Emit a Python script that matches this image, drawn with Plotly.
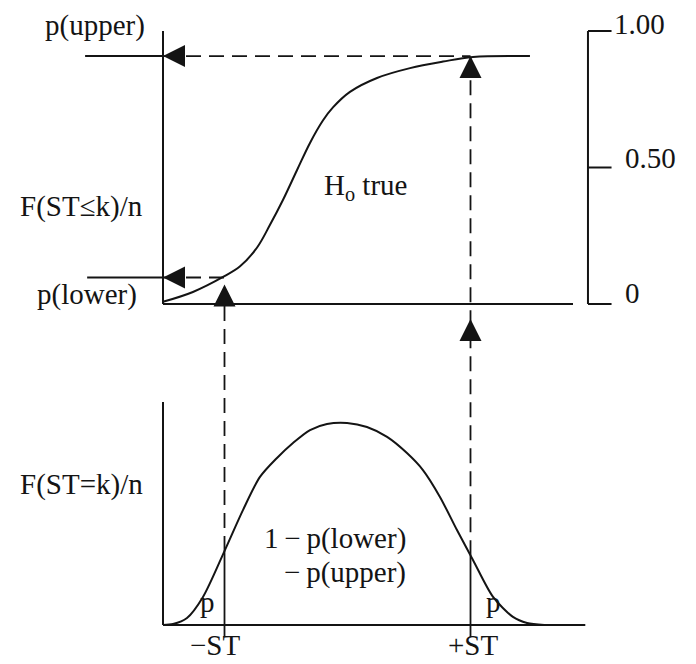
import numpy as np
import plotly.graph_objects as go

# cumulative frequency F(ST<=k)/n under H0 (top panel)
k_cdf = [0, 1.46, 2.93, 3.76, 4.59, 5.22, 5.85, 6.54, 7.17, 7.8, 8.29,
         9.12, 10.44, 12.05, 13.66, 15.12, 17.9]
cdf_vals = [0.008, 0.044, 0.099, 0.138, 0.207, 0.29, 0.381, 0.491, 0.59,
            0.672, 0.72, 0.777, 0.828, 0.864, 0.888, 0.905, 0.908]

# frequency distribution F(ST=k)/n (bottom panel)
k_pdf = [0, 0.49, 1.17, 1.95, 3.02, 3.9, 4.73, 5.56, 6.34, 7.17, 8.0, 8.98,
         9.95, 10.93, 11.9, 12.68, 13.51, 14.34, 15.12, 16.1, 17.07, 17.76, 18.6]
pdf_vals = [0, 0.005, 0.035, 0.139, 0.371, 0.569, 0.733, 0.827, 0.901, 0.965,
            0.995, 1.0, 0.98, 0.931, 0.851, 0.767, 0.634, 0.47, 0.322, 0.139,
            0.04, 0.01, 0]

st_lower, st_upper = 3.0, 15.0      # -ST and +ST
p_lower, p_upper = 0.097, 0.908     # cumulative levels reached at -ST / +ST

right_ticks = [0, 0.5, 1.0]
right_tick_text = ["0", "0.50", "1.00"]

# ---- page / pixel calibration ----
W, H = 696, 664
OFF = 8                      # default body margin of the html page
X0, XPX = 163, 20.5          # pixel of k=0, pixels per unit k
YT0, YTPX = 304, 273         # top panel: pixel of F=0, pixels per unit
YB0, YBPX = 625, 202         # bottom panel: pixel of f=0, pixels per unit

x_rng = [(OFF - X0) / XPX, (OFF + W - X0) / XPX]
yt_rng = [(YT0 - OFF - H) / YTPX, (YT0 - OFF) / YTPX]
yb_rng = [(YB0 - OFF - H) / YBPX, (YB0 - OFF) / YBPX]


def top_to_bottom(v):
    """convert a top-panel value to the bottom panel's units"""
    frac = (v - yt_rng[0]) / (yt_rng[1] - yt_rng[0])
    return yb_rng[0] + frac * (yb_rng[1] - yb_rng[0])


INK = "#141414"
FONT = dict(family="Liberation Serif, Times New Roman, serif", size=29, color=INK)
DASH = "15px,8px"

pdf_lo = float(np.interp(st_lower, k_pdf, pdf_vals))
pdf_hi = float(np.interp(st_upper, k_pdf, pdf_vals))

fig = go.Figure()
fig.add_trace(go.Scatter(x=k_cdf, y=cdf_vals, mode="lines", yaxis="y",
                         line=dict(color=INK, width=2, shape="spline", smoothing=1.0),
                         hoverinfo="skip"))
fig.add_trace(go.Scatter(x=k_pdf, y=pdf_vals, mode="lines", yaxis="y2",
                         line=dict(color=INK, width=2, shape="spline", smoothing=0.8),
                         hoverinfo="skip"))


def seg(x0, y0, x1, y1, yref="y", dash="solid", width=2):
    fig.add_shape(type="line", xref="x", yref=yref, x0=x0, y0=y0, x1=x1, y1=y1,
                  line=dict(color=INK, width=width, dash=dash), layer="below")


# top panel frame
seg(0, 0, 0, 1.0)
seg(0, 0, 20.0, 0)
# right reference scale
xr = 20.73
seg(xr, 0, xr, 1.0)
for t in right_ticks:
    seg(xr, t, xr + 1.15, t)
# p(upper) / p(lower) levels
seg(-3.8, p_upper, 0, p_upper)
seg(-3.7, p_lower, 0, p_lower)
seg(0, p_upper, st_upper, p_upper, dash=DASH, width=1.8)
seg(0, p_lower, st_lower, p_lower, dash=DASH, width=1.8)
# vertical projections
seg(st_upper, pdf_hi, st_upper, top_to_bottom(p_upper), yref="y2", dash=DASH, width=1.8)
seg(st_lower, pdf_lo, st_lower, top_to_bottom(0), yref="y2", dash=DASH, width=1.8)

# bottom panel frame
seg(0, 0, 0, 1.104, yref="y2")
seg(0, 0, 20.6, 0, yref="y2")
seg(st_lower, pdf_lo, st_lower, -0.06, yref="y2", width=1.8)
seg(st_upper, pdf_hi, st_upper, -0.06, yref="y2", width=1.8)

# arrow heads (tip of each marker sits on the point)
head = dict(color=INK, size=22, line=dict(width=0))
fig.add_trace(go.Scatter(x=[0, 0], y=[p_upper, p_lower], mode="markers", yaxis="y",
                         marker=dict(symbol="arrow-left", **head),
                         cliponaxis=False, hoverinfo="skip"))
fig.add_trace(go.Scatter(x=[st_upper, st_lower, st_upper],
                         y=[p_upper, p_lower - 7 / YTPX, -15 / YTPX],
                         mode="markers", yaxis="y",
                         marker=dict(symbol="arrow-up", **head),
                         cliponaxis=False, hoverinfo="skip"))


def label(text, x, y, yref="y", xanchor="center", yanchor="middle"):
    fig.add_annotation(text=text, x=x, y=y, xref="x", yref=yref, showarrow=False,
                       xanchor=xanchor, yanchor=yanchor, font=FONT)


# top panel text
label("p(upper)", -3.34, 1.02)
label("F(ST\u2264k)/n", -3.98, 0.357)
label("p(lower)", -3.73, 0.035)
label("H<sub>o</sub> true", 9.9, 0.43)
label_x = [22.45, 22.45, 21.9]
label_dy = [0.04, 0.033, 0.026]
for t, txt, lx, dy in zip(right_ticks, right_tick_text, label_x, label_dy):
    label(txt, lx, t + dy, xanchor="left")

# bottom panel text
label("F(ST=k)/n", -3.98, 0.695, yref="y2")
label("1\u2009\u2212\u2009p(lower)", 11.95, 0.428, yref="y2", xanchor="right")
label("\u2212\u2009p(upper)", 11.95, 0.259, yref="y2", xanchor="right")
label("p", 2.17, 0.113, yref="y2")
label("p", 16.1, 0.113, yref="y2")
label("\u2212ST", 2.56, -0.1, yref="y2")
label("+ST", 15.1, -0.1, yref="y2")

fig.update_layout(
    width=W, height=H,
    margin=dict(l=0, r=0, t=0, b=0),
    paper_bgcolor="white", plot_bgcolor="white",
    showlegend=False,
    xaxis=dict(range=x_rng, visible=False, domain=[0, 1]),
    yaxis=dict(range=yt_rng, visible=False, domain=[0, 1]),
    yaxis2=dict(range=yb_rng, visible=False, overlaying="y", anchor="x"),
)

fig.write_html("out.html")
